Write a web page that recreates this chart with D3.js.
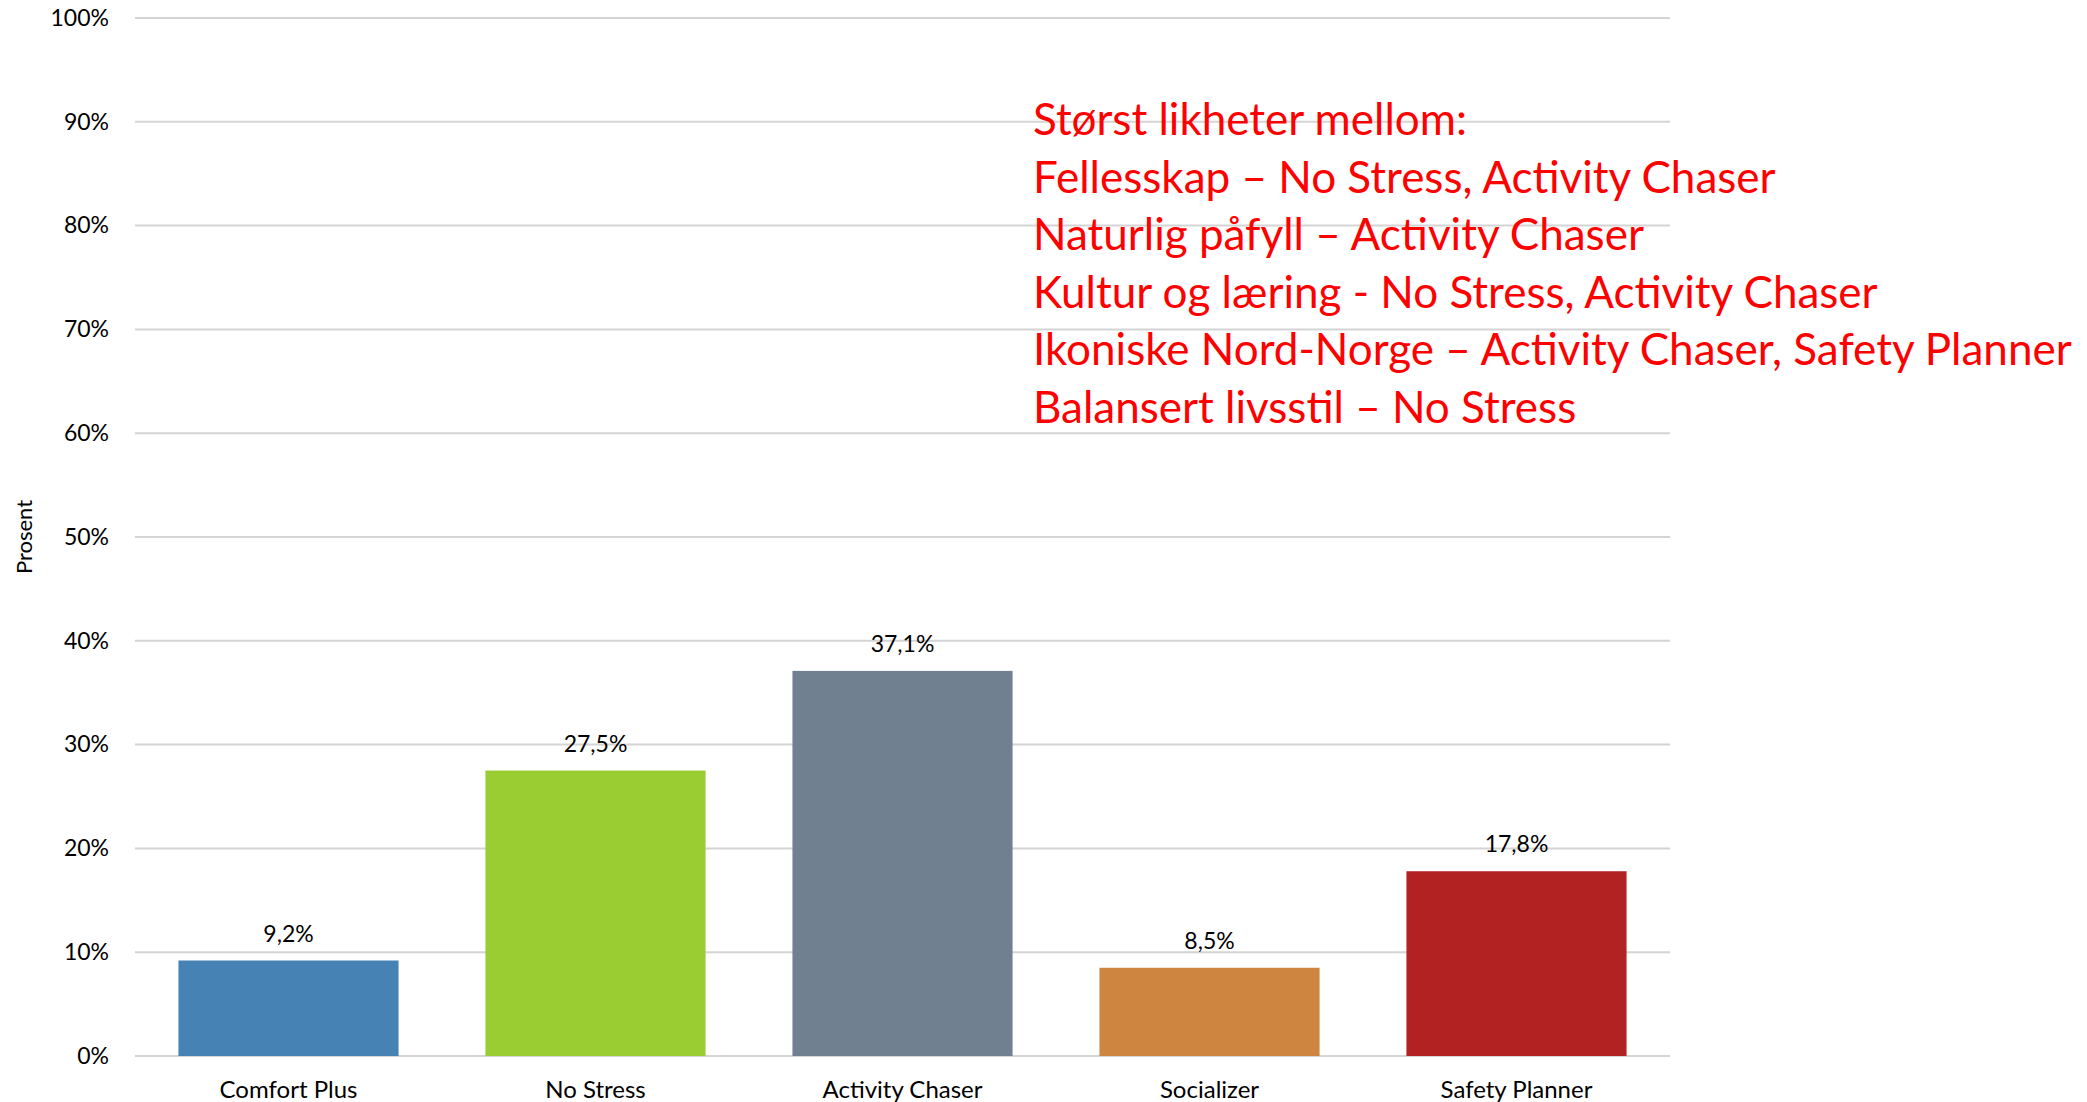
<!DOCTYPE html>
<html><head><meta charset="utf-8">
<script src="https://cdn.jsdelivr.net/npm/d3@7"></script>
<style>html,body{margin:0;padding:0;background:#fff;}svg{display:block;}</style>
</head><body>
<script>
const categories = ["Comfort Plus","No Stress","Activity Chaser","Socializer","Safety Planner"];
const values = [9.2, 27.5, 37.1, 8.5, 17.8];
const barColors = ["#4682B4","#9ACD32","#708090","#CD853F","#B22222"];
const yTicks = [0,10,20,30,40,50,60,70,80,90,100];
const yTitle = "Prosent";
const noteLines = [
  "Størst likheter mellom:",
  "Fellesskap – No Stress, Activity Chaser",
  "Naturlig påfyll – Activity Chaser",
  "Kultur og læring - No Stress, Activity Chaser",
  "Ikoniske Nord-Norge – Activity Chaser, Safety Planner",
  "Balansert livsstil – No Stress"
];

const W = 2087, H = 1102;
const m = {left:135, right:417, top:18, bottom:46};
const svg = d3.select("body").append("svg").attr("width",W).attr("height",H);
const font = "Lato, 'Open Sans', sans-serif";

const x = d3.scaleBand().domain(categories).range([m.left, W-m.right]).paddingInner(0.283).paddingOuter(0.1415);
const y = d3.scaleLinear().domain([0,100]).range([H-m.bottom, m.top]);

// gridlines
svg.append("g").selectAll("line").data(yTicks).join("line")
  .attr("x1", m.left).attr("x2", W-m.right)
  .attr("y1", d=>y(d)).attr("y2", d=>y(d))
  .attr("stroke","#d4d4d4").attr("stroke-width",2);

// y axis labels
const yAxis = d3.axisLeft(y).tickValues(yTicks).tickFormat(d=>d+"%").tickSize(0).tickPadding(26);
const ya = svg.append("g").attr("transform",`translate(${m.left},0)`).call(yAxis);
ya.select(".domain").remove();
ya.selectAll("text").attr("font-family",font).attr("font-size",23).attr("fill","#000");

// bars
svg.append("g").selectAll("rect").data(values).join("rect")
  .attr("x",(d,i)=>x(categories[i])).attr("width",x.bandwidth())
  .attr("y",d=>y(d)).attr("height",d=>y(0)-y(d))
  .attr("fill",(d,i)=>barColors[i]);

// value labels
svg.append("g").selectAll("text").data(values).join("text")
  .attr("x",(d,i)=>x(categories[i])+x.bandwidth()/2)
  .attr("y",d=>y(d)-19)
  .attr("text-anchor","middle").attr("font-family",font).attr("font-size",23).attr("fill","#000")
  .text(d=>d.toFixed(1).replace(".",",")+"%");

// x axis labels
const xAxis = d3.axisBottom(x).tickSize(0).tickPadding(25);
const xa = svg.append("g").attr("transform",`translate(0,${y(0)})`).call(xAxis);
xa.select(".domain").remove();
xa.selectAll("text").attr("font-family",font).attr("font-size",24).attr("fill","#000");

// y title
svg.append("text").attr("transform",`translate(32,${(y(0)+y(100))/2}) rotate(-90)`)
  .attr("text-anchor","middle").attr("font-family",font).attr("font-size",22).attr("fill","#000")
  .text(yTitle);

// note
const note = svg.append("g").attr("transform","translate(1033,135)");
note.selectAll("text").data(noteLines).join("text")
  .attr("x",0).attr("y",(d,i)=>i*57.6)
  .attr("font-family",font).attr("font-size",44).attr("fill","#ff0000")
  .text(d=>d);
</script>
</body></html>
